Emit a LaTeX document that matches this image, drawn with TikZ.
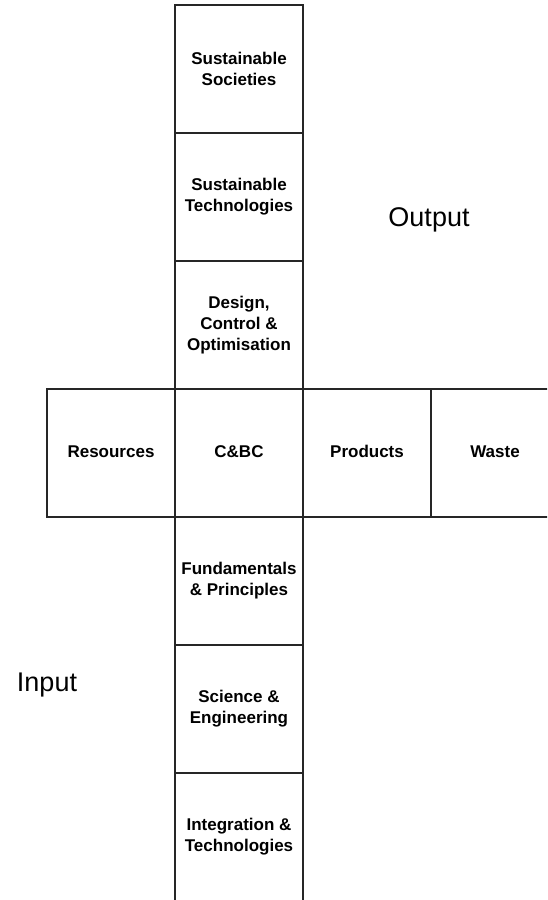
\documentclass[tikz,border=0pt]{standalone}
\usepackage{fontspec}
\setmainfont{Liberation Sans}
\tikzset{
    node distance=128pt, % one box side, so the boxes share their edges
    }

\begin{document}
\begin{tikzpicture}[x=1pt,y=1pt,
boxnode/.style={rectangle, draw=black!85, line width=1.3pt, minimum size=128pt, inner sep=0pt, align=center, font=\bfseries\fontsize{17}{21}\selectfont},
oneline/.style={text height=12.5pt, text depth=3.5pt},
sidetext/.style={font=\fontsize{27}{32}\selectfont},
]
\clip (0,0) rectangle (547,900);
\node[boxnode,oneline] (cbc) at (239,447) {C\&BC};
\node[boxnode,oneline] (resources) [left of=cbc] {Resources};
\node[boxnode,oneline] (products) [right of=cbc] {Products};
\node[boxnode,oneline] (waste) [right of=products] {Waste};
\node[boxnode] (design) [above of=cbc] {Design,\\Control \&\\Optimisation};
\node[boxnode] (technologies) [above of=design] {Sustainable\\Technologies};
\node[boxnode] (societies) [above of=technologies] {Sustainable\\Societies};
\node[boxnode] (fundamentals) [below of=cbc] {Fundamentals\\\& Principles};
\node[boxnode] (science) [below of=fundamentals] {Science \&\\Engineering};
\node[boxnode] (integration) [below of=science] {Integration \&\\Technologies};

\node[sidetext] (output) at (429,680) {Output};
\node[sidetext] (input) at (47,215) {Input};
\end{tikzpicture}
\end{document}
